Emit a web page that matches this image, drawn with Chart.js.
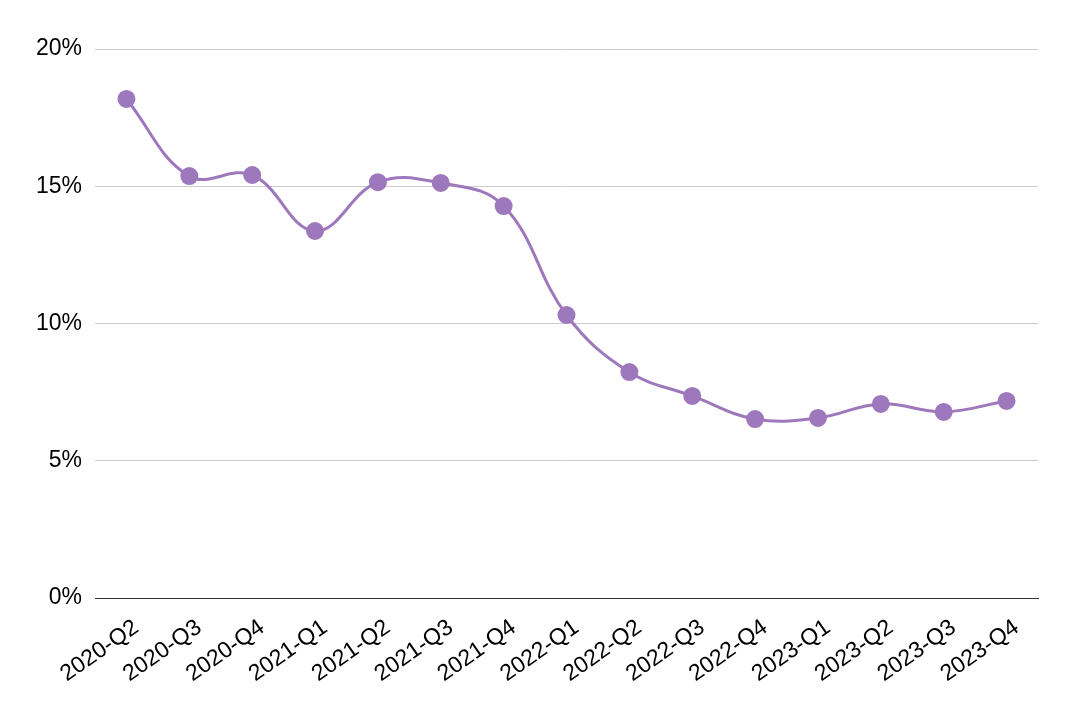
<!DOCTYPE html>
<html>
<head>
<meta charset="utf-8">
<script src="https://cdn.jsdelivr.net/npm/chart.js@4/dist/chart.umd.min.js"></script>
<style>
  html, body { margin: 0; padding: 0; background: #fff; }
  #wrap { width: 1074px; height: 704px; }
</style>
</head>
<body>
<div id="wrap"><canvas id="rateChart" width="1074" height="704"></canvas></div>
<script>
// quarters on the x axis
const quarters = ['2020-Q2', '2020-Q3', '2020-Q4', '2021-Q1', '2021-Q2', '2021-Q3', '2021-Q4',
    '2022-Q1', '2022-Q2', '2022-Q3', '2022-Q4', '2023-Q1', '2023-Q2', '2023-Q3', '2023-Q4'];
// values in percent
const rates = [18.18, 15.37, 15.41, 13.37, 15.15, 15.12, 14.28,
    10.31, 8.23, 7.36, 6.52, 6.56, 7.07, 6.78, 7.18];
const yTicks = [0, 5, 10, 15, 20];

const purple = '#9e78bc';
const fontFamily = "'Liberation Sans', Arial, sans-serif";
const ctx = document.getElementById('rateChart').getContext('2d');

const rateChart = new Chart(ctx, {
    type: 'line',
    data: {
        labels: quarters,
        datasets: [{
            data: rates,
            borderColor: purple,
            backgroundColor: purple,
            pointBackgroundColor: purple,
            pointBorderColor: purple,
            borderWidth: 3,
            pointRadius: 7.5,
            pointHoverRadius: 7.5,
            tension: 0.4,
            fill: false
        }]
    },
    options: {
        responsive: false,
        animation: false,
        layout: {
            padding: { top: 49, right: 36, left: 0, bottom: 0 }
        },
        plugins: {
            legend: { display: false },
            tooltip: { enabled: false }
        },
        scales: {
            x: {
                offset: true,
                grid: { display: false, drawTicks: false },
                border: { display: true, color: '#333', width: 1 },
                ticks: {
                    color: '#000',
                    font: { family: fontFamily, size: 23 },
                    minRotation: 35,
                    maxRotation: 35,
                    autoSkip: false,
                    padding: 16,
                    labelOffset: 10
                },
                afterFit: (scale) => { scale.height = 106; }
            },
            y: {
                min: 0,
                max: 20,
                afterBuildTicks: (scale) => { scale.ticks = yTicks.map(v => ({ value: v })); },
                grid: { color: '#cccccc', drawTicks: false },
                border: { display: false },
                ticks: {
                    color: '#000',
                    font: { family: fontFamily, size: 23 },
                    padding: 13,
                    callback: (v) => v + '%'
                },
                afterFit: (scale) => { scale.width = 95; }
            }
        }
    }
});
</script>
</body>
</html>
